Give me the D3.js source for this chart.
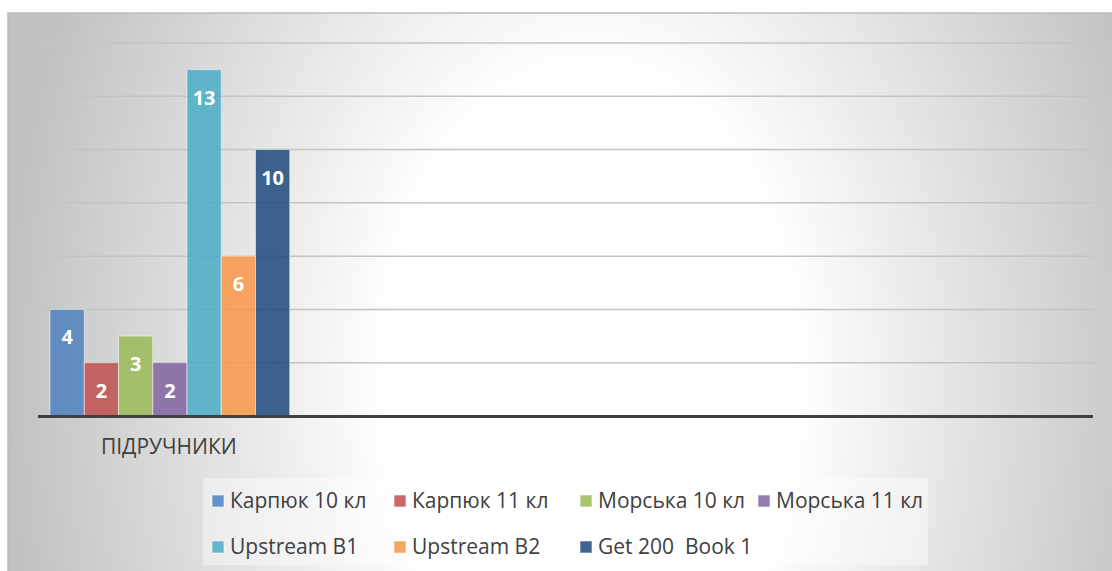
<!DOCTYPE html>
<html>
<head>
<meta charset="utf-8">
<script src="https://cdn.jsdelivr.net/npm/d3@7"></script>
<style>
  body { margin: 0; background: #fff; }
  text { font-family: "Open Sans", "Noto Sans", sans-serif; white-space: pre; }
</style>
</head>
<body>
<div id="vis"></div>
<script>
// data
var categories = ["ПІДРУЧНИКИ", "c2", "c3", "c4"];
var categoryLabels = ["ПІДРУЧНИКИ", "", "", ""];
var seriesNames = ["Карпюк 10 кл", "Карпюк 11 кл", "Морська 10 кл", "Морська 11 кл",
    "Upstream B1", "Upstream B2", "Get 200  Book 1"];
var seriesValues = [4, 2, 3, 2, 13, 6, 10];
var seriesColors = ["#4F81BD", "#C0504D", "#9BBB59", "#8064A2", "#4BACC6", "#F79646", "#1F497D"];
var yTicks = [0, 2, 4, 6, 8, 10, 12, 14];

var width = 1112, height = 571;
var plot = { left: 38, right: 1093, top: 43, bottom: 416 };

var svg = d3.select("#vis").append("svg")
    .attr("width", width)
    .attr("height", height);

// background gradient
var defs = svg.append("defs");
var grad = defs.append("radialGradient")
    .attr("id", "bg")
    .attr("gradientUnits", "userSpaceOnUse")
    .attr("cx", 590).attr("cy", 380).attr("r", 580)
    .attr("gradientTransform", "translate(590,380) scale(1,1.5) translate(-590,-380)");
grad.append("stop").attr("offset", 0).attr("stop-color", "#ffffff");
grad.append("stop").attr("offset", 0.35).attr("stop-color", "#ffffff");
grad.append("stop").attr("offset", 1).attr("stop-color", "#c2c2c2");

svg.append("rect")
    .attr("x", 8).attr("y", 13)
    .attr("width", 1110).attr("height", 565)
    .attr("fill", "url(#bg)")
    .attr("stroke", "#bcbcbc")
    .attr("stroke-width", 1.5);

var y = d3.scaleLinear()
    .domain([0, 14])
    .range([plot.bottom, plot.top]);

var x = d3.scaleBand()
    .domain(categories)
    .range([plot.left, plot.right]);

var xInner = d3.scaleBand()
    .domain(seriesNames)
    .range([12, x.bandwidth() - 12]);

// gridlines
svg.append("g").selectAll("line")
    .data(yTicks.filter(d => d > 0))
    .enter().append("line")
    .attr("x1", plot.left).attr("x2", plot.right)
    .attr("y1", d => y(d)).attr("y2", d => y(d))
    .attr("stroke", "#c4c4c4")
    .attr("stroke-width", 1.5);

// bars
var bars = svg.append("g");
seriesNames.forEach(function(name, i) {
    var v = seriesValues[i];
    var bx = x(categories[0]) + xInner(name);
    bars.append("rect")
        .attr("x", bx)
        .attr("y", y(v))
        .attr("width", xInner.bandwidth())
        .attr("height", y(0) - y(v))
        .attr("fill", seriesColors[i])
        .attr("fill-opacity", 0.85)
        .attr("stroke", "#ffffff")
        .attr("stroke-opacity", 0.5)
        .attr("stroke-width", 1);
    bars.append("text")
        .attr("x", bx + xInner.bandwidth() / 2)
        .attr("y", y(v) + 28)
        .attr("dy", "0.35em")
        .attr("text-anchor", "middle")
        .attr("font-size", "20px")
        .attr("font-weight", "bold")
        .attr("fill", "#ffffff")
        .text(v);
});

// axis line
svg.append("line")
    .attr("x1", plot.left).attr("x2", plot.right)
    .attr("y1", y(0) + 0.5).attr("y2", y(0) + 0.5)
    .attr("stroke", "#404040")
    .attr("stroke-width", 3);

// category labels
svg.append("g").selectAll("text")
    .data(categories)
    .enter().append("text")
    .attr("x", d => x(d) + x.bandwidth() / 2 - 1)
    .attr("y", 447)
    .attr("dy", "0.35em")
    .attr("text-anchor", "middle")
    .attr("font-size", "21px")
    .attr("fill", "#404040")
    .text((d, i) => categoryLabels[i]);

// legend
svg.append("rect")
    .attr("x", 203).attr("y", 478)
    .attr("width", 725).attr("height", 87)
    .attr("fill", "#ffffff")
    .attr("fill-opacity", 0.4);

var legendCols = [212, 394, 580, 758];
var legendRows = [501, 547];
var legend = svg.append("g");
seriesNames.forEach(function(name, i) {
    var lx = legendCols[i % 4];
    var ly = legendRows[Math.floor(i / 4)];
    legend.append("rect")
        .attr("x", lx).attr("y", ly - 6)
        .attr("width", 12).attr("height", 12)
        .attr("fill", seriesColors[i])
        .attr("fill-opacity", 0.85)
        .attr("stroke", "#ffffff")
        .attr("stroke-opacity", 0.6);
    legend.append("text")
        .attr("x", lx + 18)
        .attr("y", ly)
        .attr("dy", "0.35em")
        .attr("font-size", "21px")
        .attr("fill", "#404040")
        .text(name);
});
</script>
</body>
</html>
